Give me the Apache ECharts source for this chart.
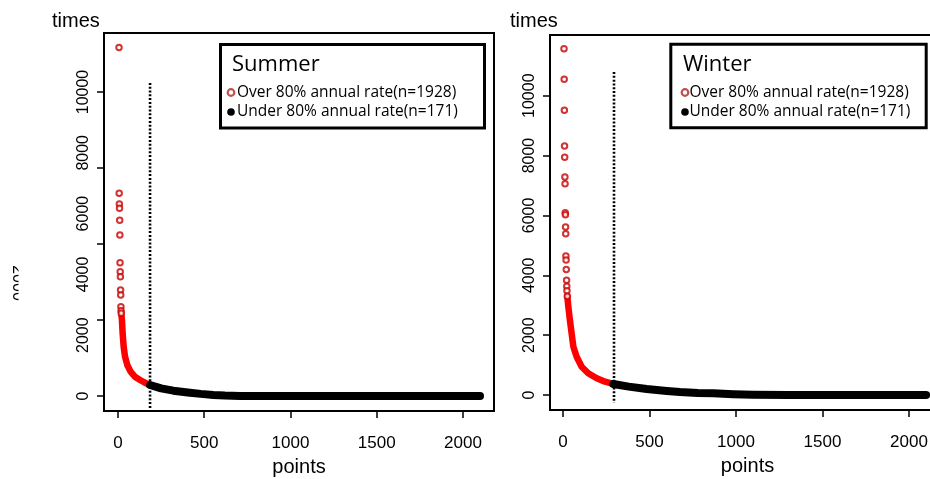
<!DOCTYPE html>
<html>
<head>
<meta charset="utf-8">
<script src="https://cdn.jsdelivr.net/npm/echarts@6/dist/echarts.min.js"></script>
<style>
  html, body { margin: 0; padding: 0; background: #fff; }
  #chart { width: 930px; height: 479px; }
</style>
</head>
<body>
<div id="chart"></div>
<script>
// 夏季：超过80%的孤立点（点序号 / 次数）
const summerOverIdx = [6, 7, 8, 9, 10, 11, 12, 13, 14, 15, 16, 17, 18, 19]
const summerOverVal = [11460, 6668, 6316, 6174, 5779, 5296, 4385, 4089, 3925, 3487, 3322, 2938, 2806, 2720]
// 夏季：超过80%的密集部分
const summerBandIdx = [19, 23, 27, 33, 41, 54, 73, 98, 128, 156, 186]
const summerBandVal = [2720, 2500, 2062, 1622, 1293, 1020, 800, 635, 526, 438, 362]
// 夏季：低于80%
const summerUnderIdx = [186, 250, 321, 417, 480, 553, 620, 707, 900, 1500, 2099]
const summerUnderVal = [362, 250, 175, 110, 70, 35, 15, 3, 0, 0, 0]
const summerCut = 186

// 冬季
const winterOverIdx = [6, 7, 8, 9, 10, 11, 12, 13, 14, 15, 16, 17, 18, 19, 21, 22, 23, 25]
const winterOverVal = [11570, 10550, 9510, 8320, 7942, 7284, 7060, 6090, 6020, 5610, 5390, 4644, 4511, 4190, 3830, 3630, 3485, 3300]
const winterBandIdx = [25, 31, 40, 50, 60, 79, 108, 146, 195, 243, 291]
const winterBandVal = [3300, 2950, 2506, 2061, 1614, 1280, 946, 725, 558, 444, 368]
const winterUnderIdx = [291, 380, 484, 600, 676, 780, 869, 984, 1100, 1300, 2099]
const winterUnderVal = [368, 280, 200, 134, 100, 70, 56, 25, 8, 2, 0]
const winterCut = 295

const xTicks = [0, 500, 1000, 1500, 2000]
const yLabels = [0, 2000, 4000, 6000, 8000, 10000]
const summerYTicks = [0, 2500, 5000, 7500, 10000]

const FONT = 'Liberation Sans, Arial, sans-serif'
const LEG = 'Open Sans, Noto Sans, sans-serif'

function zip(a, b) {
  return a.map((v, i) => [v, b[i]])
}

const chart = echarts.init(document.getElementById('chart'))

function xAxisOf(gridIndex, min, max) {
  return {
    type: 'value',
    gridIndex: gridIndex,
    min: min,
    max: max,
    name: 'points',
    nameLocation: 'middle',
    nameGap: 46,
    nameTextStyle: { fontFamily: FONT, fontSize: 20, color: '#000' },
    axisLine: { show: false, onZero: false },
    axisTick: { show: true, inside: false, length: 7, customValues: xTicks, lineStyle: { color: '#000', width: 1.5 } },
    axisLabel: { customValues: xTicks, margin: 24, fontFamily: FONT, fontSize: 17, color: '#000', formatter: v => String(v) },
    splitLine: { show: false }
  }
}

function yAxisOf(gridIndex, min, max, ticks) {
  return {
    type: 'value',
    gridIndex: gridIndex,
    min: min,
    max: max,
    axisLine: { show: false, onZero: false },
    axisTick: { show: true, inside: false, length: 7, customValues: ticks, lineStyle: { color: '#000', width: 1.5 } },
    axisLabel: { customValues: yLabels, rotate: 90, margin: 12, fontFamily: FONT, fontSize: 16, color: '#000', formatter: v => String(v) },
    splitLine: { show: false }
  }
}

function panelSeries(k, overIdx, overVal, bandIdx, bandVal, underIdx, underVal, cut, cutTop, cutBottom) {
  return [
    {
      name: 'cut' + k,
      type: 'line',
      xAxisIndex: k,
      yAxisIndex: k,
      symbol: 'none',
      silent: true,
      data: [[cut, cutTop], [cut, cutBottom]],
      lineStyle: { color: '#000', width: 2.6, type: [2, 1.8] },
      z: 1
    },
    {
      name: 'over' + k,
      type: 'scatter',
      xAxisIndex: k,
      yAxisIndex: k,
      symbol: 'emptyCircle',
      symbolSize: 5.5,
      data: zip(overIdx, overVal),
      itemStyle: { color: '#c80000', borderColor: '#c80000', borderWidth: 2 },
      z: 3
    },
    {
      name: 'band' + k,
      type: 'line',
      xAxisIndex: k,
      yAxisIndex: k,
      symbol: 'none',
      data: zip(bandIdx, bandVal),
      lineStyle: { color: '#ff0000', width: 6.5, cap: 'round', join: 'round' },
      z: 2
    },
    {
      name: 'under' + k,
      type: 'line',
      xAxisIndex: k,
      yAxisIndex: k,
      symbol: 'none',
      data: zip(underIdx, underVal),
      lineStyle: { color: '#000', width: 8, cap: 'round', join: 'round' },
      z: 2
    }
  ]
}

function legendBox(x, y, w, h, title, tx, ix, textX) {
  return [
    { type: 'rect', shape: { x: x, y: y, width: w, height: h }, style: { fill: '#fff', stroke: '#000', lineWidth: 3 }, z: 10 },
    { type: 'text', x: tx, y: 65, style: { text: title, fontFamily: LEG, fontSize: 22, fill: '#000', textVerticalAlign: 'middle' }, z: 11 },
    { type: 'circle', shape: { cx: ix, cy: 92.5, r: 3.3 }, style: { fill: '#fff', stroke: '#c0504d', lineWidth: 2.2 }, z: 11 },
    { type: 'text', x: textX, y: 92.5, style: { text: 'Over 80% annual rate(n=1928)', fontFamily: LEG, fontSize: 15.5, fill: '#000', textVerticalAlign: 'middle' }, z: 11 },
    { type: 'circle', shape: { cx: ix, cy: 112, r: 3.8 }, style: { fill: '#000' }, z: 11 },
    { type: 'text', x: textX, y: 112, style: { text: 'Under 80% annual rate(n=171)', fontFamily: LEG, fontSize: 15.5, fill: '#000', textVerticalAlign: 'middle' }, z: 11 }
  ]
}

chart.setOption({
  animation: false,
  backgroundColor: '#fff',
  grid: [
    { left: 104, top: 33, width: 390, height: 378, outerBoundsMode: 'none', containLabel: false, show: true, borderColor: '#000', borderWidth: 2, backgroundColor: 'transparent' },
    { left: 550, top: 35, width: 395, height: 375, outerBoundsMode: 'none', containLabel: false, show: true, borderColor: '#000', borderWidth: 2, backgroundColor: 'transparent' }
  ],
  xAxis: [xAxisOf(0, -81, 2180), xAxisOf(1, -75, 2208)],
  yAxis: [yAxisOf(0, -493, 11941, summerYTicks), yAxisOf(1, -501, 12028, yLabels)],
  series: [].concat(
    panelSeries(0, summerOverIdx, summerOverVal, summerBandIdx, summerBandVal, summerUnderIdx, summerUnderVal, summerCut, 10300, -395),
    panelSeries(1, winterOverIdx, winterOverVal, winterBandIdx, winterBandVal, winterUnderIdx, winterUnderVal, winterCut, 10790, -270)
  ),
  graphic: [].concat(
    [
      { type: 'text', x: 52, y: 21, style: { text: 'times', fontFamily: FONT, fontSize: 20, fill: '#000', textVerticalAlign: 'middle' } },
      { type: 'text', x: 510, y: 21, style: { text: 'times', fontFamily: FONT, fontSize: 20, fill: '#000', textVerticalAlign: 'middle' } },
      // 左侧残留的旋转标签
      { type: 'text', x: 17, y: 283, rotation: -Math.PI / 2, style: { text: '2000', fontFamily: FONT, fontSize: 16, fill: '#000', textAlign: 'center', textVerticalAlign: 'middle' } },
      { type: 'rect', shape: { x: 18.5, y: 255, width: 14, height: 58 }, style: { fill: '#fff' }, z: 5 }
    ],
    legendBox(220.5, 44.5, 264, 83.5, 'Summer', 232, 231, 237),
    legendBox(670.8, 44.2, 255.4, 83.6, 'Winter', 683, 685, 689.5)
  )
})
</script>
</body>
</html>
